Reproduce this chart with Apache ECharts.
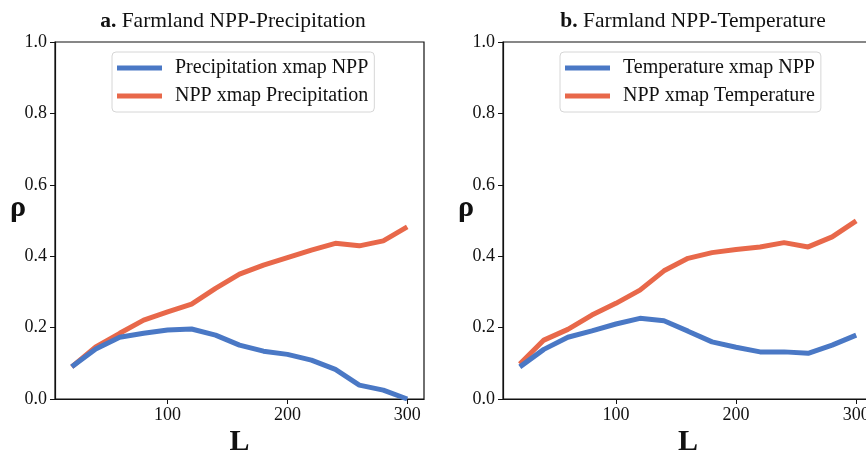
<!DOCTYPE html>
<html><head><meta charset="utf-8">
<script src="https://cdn.jsdelivr.net/npm/echarts@6/dist/echarts.min.js"></script>
<style>html,body{margin:0;padding:0;background:#fff}#c{width:866px;height:455px}</style>
</head><body><div id="c"></div>
<script>
const L = [20,40,60,80,100,120,140,160,180,200,220,240,260,280,300];
const precipXmapNPP = [0.09,0.14,0.173,0.184,0.193,0.196,0.179,0.151,0.134,0.125,0.109,0.083,0.039,0.025,0.0];
const nppXmapPrecip = [0.09,0.146,0.184,0.221,0.244,0.266,0.31,0.35,0.375,0.396,0.417,0.436,0.429,0.443,0.482];
const tempXmapNPP = [0.09,0.139,0.173,0.191,0.21,0.226,0.219,0.19,0.16,0.145,0.132,0.132,0.128,0.151,0.179];
const nppXmapTemp = [0.098,0.165,0.195,0.235,0.268,0.305,0.359,0.394,0.41,0.419,0.426,0.438,0.426,0.454,0.499];
const xTicks = [100,200,300];
const yTicks = [0,0.2,0.4,0.6,0.8,1.0];
const titles = [['a.','Farmland NPP-Precipitation'],['b.','Farmland NPP-Temperature']];
const names = [['Precipitation xmap NPP','NPP xmap Precipitation'],['Temperature xmap NPP','NPP xmap Temperature']];
const panels = [[precipXmapNPP,nppXmapPrecip],[tempXmapNPP,nppXmapTemp]];

const BLUE = '#4a78c5', ORANGE = '#e8684a';
const FONT = '"Liberation Serif", "Times New Roman", serif';
const grids = [{left:55, top:42, width:369, height:357}, {left:503, top:42, width:370, height:357}];
const legendLeft = [112, 560];
const titleX = [228, 688];

const chart = echarts.init(document.getElementById('c'));
const option = {
  backgroundColor:'#fff',
  animation:false,
  textStyle:{fontFamily:FONT},
  title: titles.map((t,i)=>({
    text:'{b|'+t[0]+'} {n|'+t[1]+'}',
    left:titleX[i], top:5, textAlign:'center',
    textStyle:{fontFamily:FONT, fontWeight:'normal', fontSize:21.5, color:'#111',
      rich:{b:{fontFamily:FONT,fontWeight:'bold',fontSize:21.5,color:'#111'},n:{fontFamily:FONT,fontWeight:'normal',fontSize:21.5,color:'#111'}}}
  })),
  grid: grids.map(g=>Object.assign({show:true, outerBoundsMode:'none', containLabel:false, borderColor:'#111', borderWidth:1.2, backgroundColor:'transparent'}, g)),
  legend: names.map((n,i)=>({
    data:n, orient:'vertical', left:legendLeft[i], top:52,
    icon:'rect', itemWidth:45, itemHeight:5, itemGap:8,
    padding:[6,6,6,5],
    borderColor:'#d6d6d6', borderWidth:1, borderRadius:4, backgroundColor:'rgba(255,255,255,0.8)',
    textStyle:{fontFamily:FONT, fontSize:20, color:'#111', lineHeight:20, padding:[0,0,0,8]}
  })),
  xAxis: grids.map((g,i)=>({
    type:'value', gridIndex:i, min:6, max:314,
    name:'L', nameLocation:'middle', nameGap:28, nameMoveOverlap:false,
    nameTextStyle:{fontFamily:FONT, fontWeight:'bold', fontSize:30, color:'#111'},
    axisLine:{show:true, onZero:false, lineStyle:{color:'#111', width:1.2}},
    axisTick:{show:true, length:5, customValues:xTicks, lineStyle:{color:'#111'}},
    axisLabel:{margin:7, fontFamily:FONT, fontSize:18, color:'#111', customValues:xTicks},
    splitLine:{show:false}
  })),
  yAxis: grids.map((g,i)=>({
    type:'value', gridIndex:i, min:0, max:1, interval:0.2,
    name:'ρ', nameLocation:'middle', nameRotate:0, nameGap:29, nameMoveOverlap:false,
    nameTextStyle:{fontFamily:FONT, fontWeight:'bold', fontSize:30, lineHeight:24, color:'#111', verticalAlign:'bottom'},
    axisLine:{show:true, lineStyle:{color:'#111', width:1.2}},
    axisTick:{show:true, length:5, lineStyle:{color:'#111'}},
    axisLabel:{margin:8, fontFamily:FONT, fontSize:18, color:'#111', formatter:v=>v.toFixed(1)},
    splitLine:{show:false}
  })),
  series: []
};
panels.forEach((p,i)=>{
  p.forEach((vals,j)=>{
    option.series.push({
      type:'line', name:names[i][j], xAxisIndex:i, yAxisIndex:i,
      data:L.map((x,k)=>[x,vals[k]]), showSymbol:false, symbol:'none',
      lineStyle:{width:5, color: j===0?BLUE:ORANGE}, itemStyle:{color: j===0?BLUE:ORANGE},
      z: j===0?3:2
    });
  });
});
chart.setOption(option);
</script>
</body></html>
